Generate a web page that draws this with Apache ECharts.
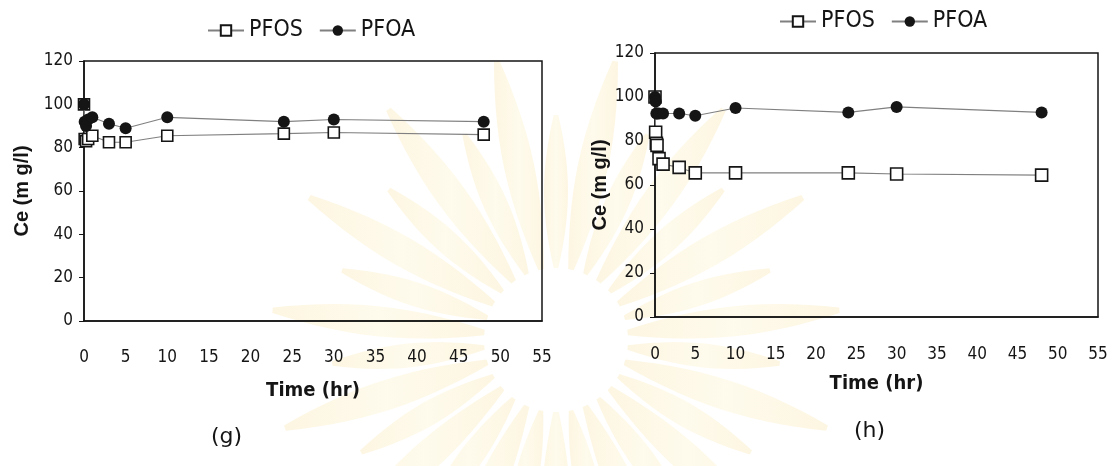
<!DOCTYPE html>
<html>
<head>
<meta charset="utf-8">
<script src="https://cdn.jsdelivr.net/npm/echarts@6/dist/echarts.min.js"></script>
<style>
  html, body { margin: 0; padding: 0; background: #ffffff; }
  #chart { width: 1115px; height: 466px; }
</style>
</head>
<body>
<div id="chart"></div>
<script>
// Panel (g): sampling times (hr) and equilibrium concentrations Ce (mg/l)
const hoursG = [0, 0.08, 0.25, 0.5, 1, 3, 5, 10, 24, 30, 48];
const pfosG  = [100, 84, 83, 84, 85.5, 82.5, 82.5, 85.5, 86.5, 87, 86];
const pfoaG  = [100, 92, 90, 93, 94, 91, 89, 94, 92, 93, 92];

// Panel (h)
const hoursH = [0, 0.08, 0.17, 0.25, 0.5, 1, 3, 5, 10, 24, 30, 48];
const pfosH  = [100, 84, 79, 78, 72, 69.5, 68, 65.5, 65.5, 65.5, 65, 64.5];
const pfoaH  = [100, 98, 92.5, 92.5, 92.5, 92.5, 92.5, 91.5, 95, 93, 95.5, 93];

const seriesNames = ['PFOS', 'PFOA'];
const panelLabels = ['(g)', '(h)'];
const xTitle = 'Time (hr)';
const yTitle = 'Ce (m g/l)';

const NARROW = "'Liberation Sans Narrow', 'DejaVu Sans Condensed', 'Liberation Sans', sans-serif";
const INK = '#151515';

function pairs(xs, ys) { return xs.map((x, i) => [x, ys[i]]); }

// faint sunburst emblem printed behind both panels
function sunburst(cx, cy) {
  const petals = [];
  const n = 30;
  for (let k = 0; k < n; k++) {
    const a = (k / n) * Math.PI * 2 + Math.PI / 2;
    const r0 = 72, r1 = (k % 2 === 0) ? 225 : 285;
    const maxHalf = (k % 2 === 0) ? 12 : 15;
    const dx = Math.cos(a), dy = -Math.sin(a);
    const px = -dy, py = dx;
    const left = [], right = [];
    const steps = 14;
    for (let s = 0; s <= steps; s++) {
      const t = s / steps;
      const r = r0 + t * (r1 - r0);
      const hw = maxHalf * Math.pow(Math.sin(Math.PI * Math.min(1, t * 0.9 + 0.05)), 0.9);
      left.push([cx + r * dx + hw * px, cy + r * dy + hw * py]);
      right.unshift([cx + r * dx - hw * px, cy + r * dy - hw * py]);
    }
    petals.push({
      type: 'polygon',
      silent: true,
      z: -10,
      shape: { points: left.concat(right) },
      style: {
        fill: {
          type: 'linear', x: 0, y: 0, x2: 1, y2: 0,
          colorStops: [
            { offset: 0, color: 'rgba(244, 208, 110, 0.20)' },
            { offset: 0.5, color: 'rgba(252, 236, 170, 0.22)' },
            { offset: 1, color: 'rgba(244, 208, 110, 0.20)' }
          ]
        }
      }
    });
  }
  return petals;
}

const grids = [
  { left: 84, right: 573, top: 61, bottom: 145, show: true, borderColor: INK, borderWidth: 1.5, backgroundColor: 'transparent' },
  { left: 655, right: 17, top: 53, bottom: 149, show: true, borderColor: INK, borderWidth: 1.5, backgroundColor: 'transparent' }
];

function xAxisFor(idx, margin, gap) {
  return {
    type: 'value', gridIndex: idx, min: 0, max: 55, interval: 5,
    axisLine: { show: true, lineStyle: { color: INK, width: 1.5 } },
    axisTick: { show: false },
    splitLine: { show: false },
    axisLabel: { margin: margin, color: INK, fontSize: 17, fontFamily: NARROW },
    name: xTitle, nameLocation: 'middle', nameGap: gap,
    nameTextStyle: { color: INK, fontSize: 20, fontWeight: 'bold', fontFamily: NARROW }
  };
}
function yAxisFor(idx, gap) {
  return {
    type: 'value', gridIndex: idx, min: 0, max: 120, interval: 20,
    axisLine: { show: true, lineStyle: { color: INK, width: 1.5 } },
    axisTick: { show: true, inside: false, length: 5, lineStyle: { color: INK, width: 1 } },
    splitLine: { show: false },
    axisLabel: { margin: 11, color: INK, fontSize: 17, fontFamily: NARROW },
    name: yTitle, nameLocation: 'middle', nameRotate: 90, nameGap: gap,
    nameTextStyle: { color: INK, fontSize: 20, fontWeight: 'bold', fontFamily: "'Liberation Sans', Arial, sans-serif" }
  };
}

function pfosSeries(idx, xs, ys, size) {
  return {
    name: seriesNames[0], type: 'line', xAxisIndex: idx, yAxisIndex: idx,
    data: pairs(xs, ys), symbol: 'rect', symbolSize: size,
    lineStyle: { color: '#808080', width: 1.1 },
    itemStyle: { color: '#ffffff', borderColor: INK, borderWidth: 1.6 },
    z: 3, animation: false
  };
}
function pfoaSeries(idx, xs, ys, size) {
  return {
    name: seriesNames[1], type: 'line', xAxisIndex: idx, yAxisIndex: idx,
    data: pairs(xs, ys), symbol: 'circle', symbolSize: size,
    lineStyle: { color: '#808080', width: 1.1 },
    itemStyle: { color: INK, borderColor: INK, borderWidth: 0 },
    z: 4, animation: false
  };
}

const legendText = { color: INK, fontSize: 23, fontFamily: NARROW };

const option = {
  backgroundColor: '#ffffff',
  animation: false,
  grid: grids,
  xAxis: [xAxisFor(0, 28, 60), xAxisFor(1, 29, 57)],
  yAxis: [yAxisFor(0, 52), yAxisFor(1, 45)],
  legend: [
    { data: seriesNames, left: 202, top: 14, itemGap: 16, itemWidth: 36, itemHeight: 13, textStyle: legendText, selectedMode: false },
    { data: seriesNames, left: 774, top: 5, itemGap: 16, itemWidth: 36, itemHeight: 13, textStyle: legendText, selectedMode: false }
  ],
  graphic: sunburst(556, 340).concat([
    { type: 'text', left: 211, top: 426, z: 10, style: { text: panelLabels[0], fill: INK, font: "22px 'DejaVu Sans', sans-serif" } },
    { type: 'text', left: 854, top: 420, z: 10, style: { text: panelLabels[1], fill: INK, font: "22px 'DejaVu Sans', sans-serif" } }
  ]),
  series: [
    pfosSeries(0, hoursG, pfosG, 11),
    pfoaSeries(0, hoursG, pfoaG, 12),
    pfosSeries(1, hoursH, pfosH, 12),
    pfoaSeries(1, hoursH, pfoaH, 12)
  ]
};

const chart = echarts.init(document.getElementById('chart'), null, { renderer: 'canvas' });
chart.setOption(option);
</script>
</body>
</html>
